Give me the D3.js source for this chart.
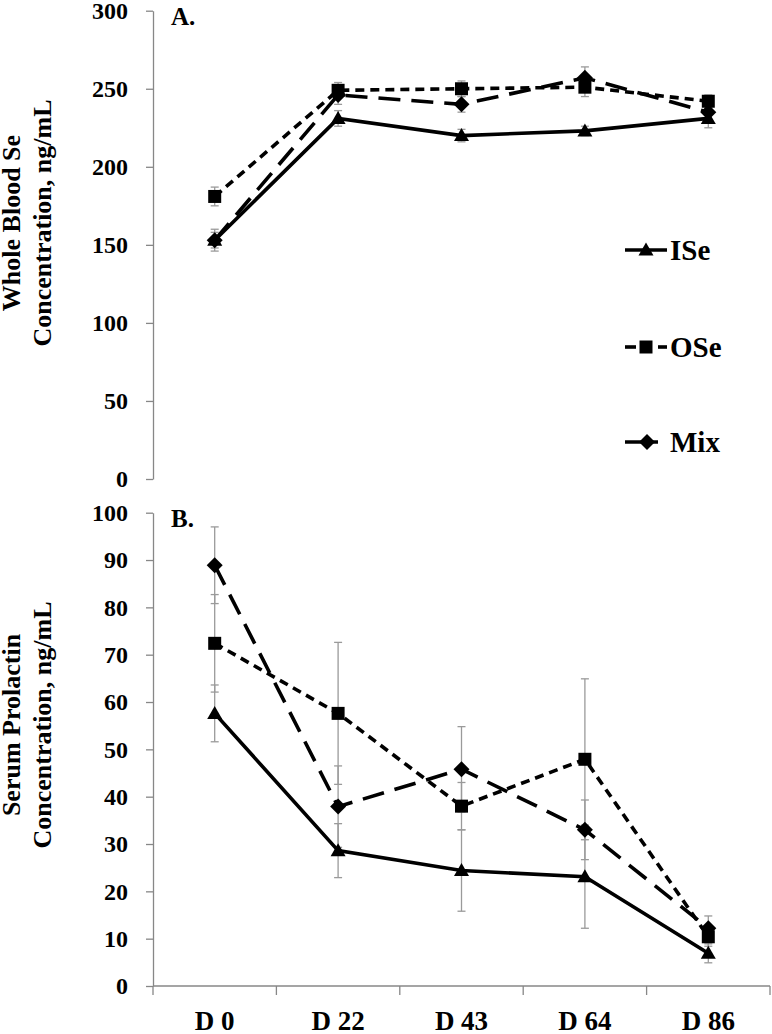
<!DOCTYPE html>
<html><head><meta charset="utf-8">
<script src="https://cdn.jsdelivr.net/npm/d3@7"></script>
<style>
body{margin:0;background:#fff}
svg{display:block}
text{font-family:"Liberation Serif","Times New Roman",serif;font-weight:bold;fill:#000}
</style>
</head><body>
<svg id="c" width="772" height="1034"></svg>
<script>
// ---------- data ----------
const categories = ["D 0", "D 22", "D 43", "D 64", "D 86"];
const seriesNames = ["ISe", "OSe", "Mix"];

// Panel A: Whole blood Se, ng/mL
const seISe = [153, 231, 220, 223, 231];
const seOSe = [181, 249, 250, 251, 242];
const seMix = [153, 246, 240, 257, 235];
const seISeErr = [5, 5, 4, 3, 6];
const seOSeErr = [6, 5, 5, 6, 4];
const seMixErr = [7, 6, 5, 7, 5];
const seTicks = [0, 50, 100, 150, 200, 250, 300];

// Panel B: Serum prolactin, ng/mL
const prlISe = [57.6, 28.6, 24.4, 23.1, 6.9];
const prlOSe = [72.4, 57.6, 38.0, 47.9, 10.4];
const prlMix = [88.9, 37.9, 45.8, 33.0, 12.2];
const prlISeErr = [6.0, 5.7, 8.6, 10.9, 2.0];
const prlOSeErr = [10.3, 15.0, 5.0, 17.0, 2.0];
const prlMixErr = [8.1, 8.6, 9.0, 6.3, 2.6];
const prlTicks = [0, 10, 20, 30, 40, 50, 60, 70, 80, 90, 100];

// ---------- styles ----------
const styles = {
  ISe: {dash: null, marker: "triangle"},
  OSe: {dash: "9,6", marker: "square"},
  Mix: {dash: "22,11", marker: "diamond"}
};
const axisColor = "#878787";
const errColor = "#9a9a9a";

const svg = d3.select("#c");
const x = d3.scaleBand().domain(categories).range([153, 770]).padding(0);
const cx = c => x(c) + x.bandwidth() / 2;

function markerPath(type) {
  if (type === "triangle") return "M0,-7.5L7.5,5.5L-7.5,5.5Z";
  if (type === "square") return "M-6.5,-6.5H6.5V6.5H-6.5Z";
  return "M0,-8L8,0L0,8L-8,0Z";
}

function panel(cfg) {
  const y = d3.scaleLinear().domain(cfg.domain).range(cfg.range);
  const g = svg.append("g");

  // y axis
  const ax = g.append("g").attr("transform", "translate(153,0)")
    .call(d3.axisLeft(y).tickValues(cfg.ticks).tickSize(7).tickSizeOuter(0).tickPadding(18));
  ax.select(".domain").attr("stroke", axisColor).attr("stroke-width", 1.3);
  ax.selectAll(".tick line").attr("stroke", axisColor).attr("stroke-width", 1.3);
  ax.selectAll(".tick text").attr("font-size", 24)
    .attr("font-family", '"Liberation Serif","Times New Roman",serif')
    .attr("font-weight", "bold").attr("fill", "#000");

  // y title (two lines)
  const tt = g.append("text").attr("transform", `translate(0,${cfg.titleY}) rotate(-90)`)
    .attr("text-anchor", "middle").attr("font-size", 26);
  tt.append("tspan").attr("x", 0).attr("y", 20).text(cfg.title[0]);
  tt.append("tspan").attr("x", 0).attr("y", 51).text(cfg.title[1]);

  // panel label
  g.append("text").attr("x", 171).attr("y", cfg.labelY).attr("font-size", 25).text(cfg.label);

  // error bars
  cfg.series.forEach(s => {
    s.values.forEach((v, i) => {
      const xc = cx(categories[i]);
      const y1 = y(v + s.err[i]), y2 = y(v - s.err[i]);
      const eg = g.append("g").attr("stroke", errColor).attr("stroke-width", 1.3);
      eg.append("line").attr("x1", xc).attr("x2", xc).attr("y1", y1).attr("y2", y2);
      eg.append("line").attr("x1", xc - 4).attr("x2", xc + 4).attr("y1", y1).attr("y2", y1);
      eg.append("line").attr("x1", xc - 4).attr("x2", xc + 4).attr("y1", y2).attr("y2", y2);
    });
  });

  // lines
  const line = d3.line().x((d, i) => cx(categories[i])).y(d => y(d));
  cfg.series.forEach(s => {
    g.append("path").attr("d", line(s.values)).attr("fill", "none")
      .attr("stroke", "#000").attr("stroke-width", 3.6)
      .attr("stroke-dasharray", styles[s.name].dash);
  });
  // markers
  cfg.series.forEach(s => {
    g.selectAll(null).data(s.values).enter().append("path")
      .attr("d", markerPath(styles[s.name].marker))
      .attr("transform", (d, i) => `translate(${cx(categories[i])},${y(d)})`)
      .attr("fill", "#000");
  });
  return y;
}

panel({
  domain: [0, 300], range: [479, 10.7], ticks: seTicks,
  title: ["Whole Blood Se", "Concentration, ng/mL"], titleY: 223,
  label: "A.", labelY: 25,
  series: [
    {name: "ISe", values: seISe, err: seISeErr},
    {name: "OSe", values: seOSe, err: seOSeErr},
    {name: "Mix", values: seMix, err: seMixErr}
  ]
});

panel({
  domain: [0, 100], range: [986, 512.7], ticks: prlTicks,
  title: ["Serum Prolactin", "Concentration, ng/mL"], titleY: 725,
  label: "B.", labelY: 527,
  series: [
    {name: "ISe", values: prlISe, err: prlISeErr},
    {name: "OSe", values: prlOSe, err: prlOSeErr},
    {name: "Mix", values: prlMix, err: prlMixErr}
  ]
});

// bottom x axis (category boundaries as ticks)
const xa = svg.append("g");
const x0 = x.range()[0], x1 = x.range()[1];
xa.append("line").attr("x1", x0).attr("x2", x1).attr("y1", 986).attr("y2", 986)
  .attr("stroke", axisColor).attr("stroke-width", 1.3);
const bounds = categories.map(c => x(c)).concat([x1]);
xa.selectAll(null).data(bounds).enter().append("line")
  .attr("x1", d => d).attr("x2", d => d).attr("y1", 986).attr("y2", 995)
  .attr("stroke", axisColor).attr("stroke-width", 1.3);
xa.selectAll(null).data(categories).enter().append("text")
  .attr("x", d => cx(d)).attr("y", 1030).attr("text-anchor", "middle")
  .attr("font-size", 27).text(d => d);

// legend
const legY = [250, 347, 442];
const lg = svg.append("g");
seriesNames.forEach((n, i) => {
  const yy = legY[i];
  const st = styles[n];
  if (n === "ISe") {
    lg.append("line").attr("x1", 625).attr("x2", 667).attr("y1", yy).attr("y2", yy)
      .attr("stroke", "#000").attr("stroke-width", 3.6);
  } else if (n === "OSe") {
    lg.append("line").attr("x1", 625).attr("x2", 636).attr("y1", yy).attr("y2", yy)
      .attr("stroke", "#000").attr("stroke-width", 3.6);
    lg.append("line").attr("x1", 658).attr("x2", 667).attr("y1", yy).attr("y2", yy)
      .attr("stroke", "#000").attr("stroke-width", 3.6);
  } else {
    lg.append("line").attr("x1", 625).attr("x2", 658).attr("y1", yy).attr("y2", yy)
      .attr("stroke", "#000").attr("stroke-width", 3.6);
  }
  lg.append("path").attr("d", markerPath(st.marker))
    .attr("transform", `translate(${n === "Mix" ? 647 : 646},${yy})`).attr("fill", "#000");
  lg.append("text").attr("x", 670).attr("y", yy + 10).attr("font-size", 29).text(n);
});
</script>
</body></html>
